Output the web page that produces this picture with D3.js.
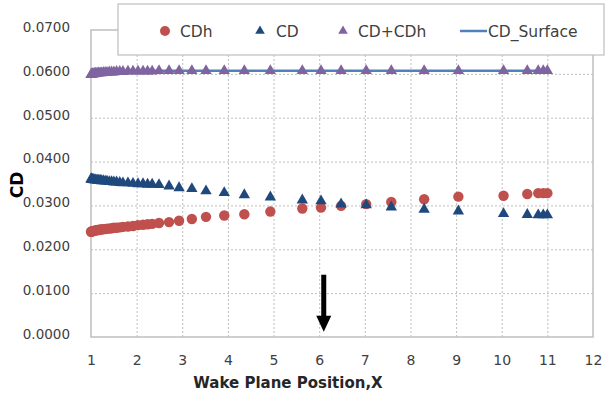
<!DOCTYPE html>
<html>
<head>
<meta charset="utf-8">
<script src="https://cdn.jsdelivr.net/npm/d3@7"></script>
<style>
  body { margin: 0; background: #ffffff; }
</style>
</head>
<body>
<div id="chart"></div>
<script>
// wake plane positions
var positions = [1.00, 1.01, 1.02, 1.03, 1.05, 1.07, 1.09, 1.11, 1.14, 1.17,
  1.20, 1.23, 1.27, 1.31, 1.35, 1.40, 1.45, 1.50, 1.56, 1.63,
  1.70, 1.81, 1.92, 2.03, 2.14, 2.24, 2.34, 2.49, 2.71, 2.93,
  3.21, 3.52, 3.92, 4.36, 4.93, 5.63, 6.04, 6.48, 7.03, 7.58,
  8.30, 9.05, 10.04, 10.56, 10.80, 10.91, 11.00];

var cdh = [0.0240, 0.0240, 0.0241, 0.0241, 0.0242, 0.0242, 0.0243, 0.0243, 0.0244, 0.0244,
  0.0245, 0.0245, 0.0246, 0.0246, 0.0247, 0.0247, 0.0248, 0.0249, 0.0249, 0.0250,
  0.0251, 0.0252, 0.0253, 0.0255, 0.0256, 0.0257, 0.0258, 0.0260, 0.0262, 0.0265,
  0.0269, 0.0274, 0.0277, 0.0280, 0.0286, 0.0293, 0.0295, 0.0299, 0.0303, 0.0308,
  0.0314, 0.0320, 0.0322, 0.0326, 0.0328, 0.0328, 0.0328];

var cd = [0.0360, 0.0360, 0.0359, 0.0359, 0.0359, 0.0358, 0.0358, 0.0358, 0.0357, 0.0357,
  0.0357, 0.0356, 0.0356, 0.0355, 0.0355, 0.0354, 0.0354, 0.0353, 0.0353, 0.0352,
  0.0351, 0.0351, 0.0350, 0.0349, 0.0349, 0.0348, 0.0348, 0.0347, 0.0344, 0.0340,
  0.0338, 0.0333, 0.0329, 0.0324, 0.0319, 0.0312, 0.0310, 0.0303, 0.0301, 0.0296,
  0.0291, 0.0287, 0.0281, 0.0279, 0.0278, 0.0278, 0.0278];

var cdTotal = [0.0598, 0.0599, 0.0599, 0.0600, 0.0600, 0.0600, 0.0601, 0.0601, 0.0601, 0.0602,
  0.0602, 0.0602, 0.0603, 0.0603, 0.0603, 0.0604, 0.0604, 0.0604, 0.0605, 0.0605,
  0.0605, 0.0606, 0.0606, 0.0606, 0.0606, 0.0606, 0.0606, 0.0607, 0.0607, 0.0607,
  0.0607, 0.0607, 0.0607, 0.0607, 0.0607, 0.0607, 0.0607, 0.0607, 0.0607, 0.0607,
  0.0607, 0.0607, 0.0607, 0.0607, 0.0607, 0.0607, 0.0607];

var surfaceX = [1, 11];
var surfaceCD = [0.0607, 0.0607];

var xTicks = [1, 2, 3, 4, 5, 6, 7, 8, 9, 10, 11, 12];
var yTicks = [0, 0.01, 0.02, 0.03, 0.04, 0.05, 0.06, 0.07];

var legendNames = ["CDh", "CD", "CD+CDh", "CD_Surface"];

// arrow annotation (data coords)
var arrowX = 6.1;
var arrowFrom = 0.0142;
var arrowTo = 0.0012;

//constants
var width = 607;
var height = 399;
var plot_left = 91, plot_right = 593, plot_top = 30, plot_bottom = 337;
var color_cdh = "#c0504d";
var color_cd = "#1f497d";
var color_total = "#8064a2";
var color_surface = "#4f81bd";
var color_frame = "#bfbfbf";
var color_text = "#404040";
var font = "DejaVu Sans, Verdana, sans-serif";

var svg = d3.select("#chart")
  .append("svg")
  .attr("width", width)
  .attr("height", height)
  .style("font-family", font);

var x_scale = d3.scaleLinear().domain([1, 12]).range([plot_left, plot_right]);
var y_scale = d3.scaleLinear().domain([0, 0.07]).range([plot_bottom, plot_top]);

//gridlines
svg.append("g")
  .attr("transform", "translate(0," + plot_bottom + ")")
  .call(d3.axisBottom(x_scale).tickValues(xTicks.slice(1, -1)).tickSize(-(plot_bottom - plot_top)).tickFormat(""))
  .call(g => g.select(".domain").remove())
  .selectAll("line")
  .style("stroke", color_frame)
  .style("stroke-dasharray", "2,2");

svg.append("g")
  .attr("transform", "translate(" + plot_left + ",0)")
  .call(d3.axisLeft(y_scale).tickValues(yTicks.slice(1, -1)).tickSize(-(plot_right - plot_left)).tickFormat(""))
  .call(g => g.select(".domain").remove())
  .selectAll("line")
  .style("stroke", color_frame)
  .style("stroke-dasharray", "2,2");

//plot frame
svg.append("rect")
  .attr("x", plot_left)
  .attr("y", plot_top)
  .attr("width", plot_right - plot_left)
  .attr("height", plot_bottom - plot_top)
  .style("fill", "none")
  .style("stroke", color_frame)
  .style("stroke-width", 1.5);

//tick labels
var y_axis = svg.append("g")
  .attr("transform", "translate(" + plot_left + ",0)")
  .call(d3.axisLeft(y_scale).tickValues(yTicks).tickSize(0).tickPadding(21).tickFormat(d3.format(".4f")));
y_axis.select(".domain").remove();
y_axis.attr("font-family", font).attr("font-size", 13.5);
y_axis.selectAll("text")
  .attr("dy", "0.1em")
  .style("fill", color_text);

var x_axis = svg.append("g")
  .attr("transform", "translate(0," + plot_bottom + ")")
  .call(d3.axisBottom(x_scale).tickValues(xTicks).tickSize(0).tickPadding(18).tickFormat(d3.format("d")));
x_axis.select(".domain").remove();
x_axis.attr("font-family", font).attr("font-size", 14);
x_axis.selectAll("text")
  .style("fill", color_text);

//series
var rows = positions.map(function(p, i) {
  return {x: p, cdh: cdh[i], cd: cd[i], total: cdTotal[i]};
});

var triangle = d3.symbol().type(d3.symbolTriangle).size(56);
var triangleSmall = d3.symbol().type(d3.symbolTriangle).size(40);

svg.append("g").selectAll("circle")
  .data(rows)
  .enter().append("circle")
  .attr("cx", d => x_scale(d.x))
  .attr("cy", d => y_scale(d.cdh))
  .attr("r", 5.2)
  .style("fill", color_cdh);

svg.append("g").selectAll("path")
  .data(rows)
  .enter().append("path")
  .attr("d", triangle)
  .attr("transform", d => "translate(" + x_scale(d.x) + "," + y_scale(d.cd) + ")")
  .style("fill", color_cd);

var surfaceLine = d3.line()
  .x((d, i) => x_scale(surfaceX[i]))
  .y(d => y_scale(d));

svg.append("path")
  .datum(surfaceCD)
  .attr("d", surfaceLine)
  .style("fill", "none")
  .style("stroke", color_surface)
  .style("stroke-width", 2.5);

svg.append("g").selectAll("path")
  .data(rows)
  .enter().append("path")
  .attr("d", triangle)
  .attr("transform", d => "translate(" + x_scale(d.x) + "," + y_scale(d.total) + ")")
  .style("fill", color_total);

//arrow
var ax = x_scale(arrowX);
var ay1 = y_scale(arrowFrom);
var ay2 = y_scale(arrowTo);
svg.append("rect")
  .attr("x", ax - 2.5)
  .attr("y", ay1)
  .attr("width", 5)
  .attr("height", ay2 - ay1 - 14)
  .style("fill", "#000000");
svg.append("path")
  .attr("d", "M" + (ax - 7.5) + "," + (ay2 - 16) + "L" + (ax + 7.5) + "," + (ay2 - 16) + "L" + ax + "," + ay2 + "Z")
  .style("fill", "#000000");

//legend
var key = svg.append("g");
key.append("rect")
  .attr("x", 118)
  .attr("y", 4)
  .attr("width", 486)
  .attr("height", 51)
  .style("fill", "#ffffff")
  .style("stroke", color_frame)
  .style("stroke-width", 1.2);

var ky = 31;
key.append("circle")
  .attr("cx", 165).attr("cy", ky).attr("r", 5)
  .style("fill", color_cdh);
key.append("path")
  .attr("d", triangleSmall)
  .attr("transform", "translate(260," + ky + ")")
  .style("fill", color_cd);
key.append("path")
  .attr("d", triangleSmall)
  .attr("transform", "translate(343," + ky + ")")
  .style("fill", color_total);
key.append("line")
  .attr("x1", 460).attr("x2", 487)
  .attr("y1", ky).attr("y2", ky)
  .style("stroke", color_surface)
  .style("stroke-width", 2.5);

var keyX = [180, 276, 358, 488];
legendNames.forEach(function(name, i) {
  key.append("text")
    .attr("x", keyX[i])
    .attr("y", ky + 6)
    .style("font-size", "15.5px")
    .style("fill", color_text)
    .text(name);
});

//axis titles
svg.append("text")
  .attr("x", 288)
  .attr("y", 388)
  .style("text-anchor", "middle")
  .style("font-size", "15px")
  .style("font-weight", "bold")
  .style("fill", "#262626")
  .text("Wake Plane Position,X");

svg.append("text")
  .attr("transform", "translate(23,185) rotate(-90)")
  .style("text-anchor", "middle")
  .style("font-size", "17px")
  .style("font-weight", "bold")
  .style("fill", "#000000")
  .text("CD");
</script>
</body>
</html>
